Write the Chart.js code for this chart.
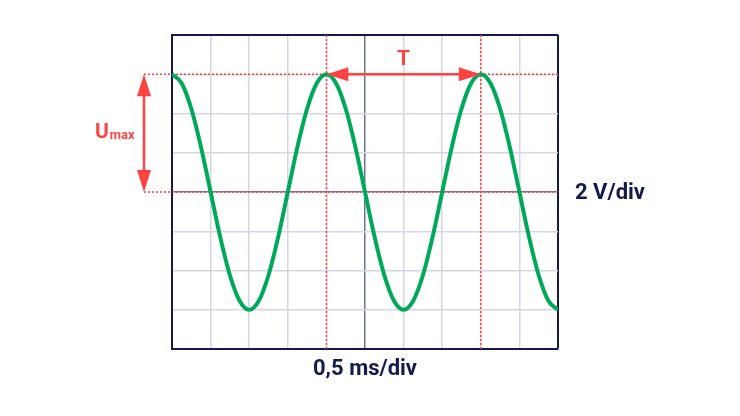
<!DOCTYPE html>
<html>
<head>
<meta charset="utf-8">
<script src="https://cdn.jsdelivr.net/npm/chart.js@4.4.0/dist/chart.umd.min.js"></script>
<style>
  body { margin: 0; background: #ffffff; }
</style>
</head>
<body>
<canvas id="scope" width="740" height="416"></canvas>
<script>
// time axis in divisions (0,5 ms/div), voltage in divisions (2 V/div)
const timeDiv = [
    0, 0.25, 0.5, 0.75, 1, 1.25, 1.5, 1.75, 2, 2.25, 2.5, 2.75, 3, 3.25, 3.5, 3.75,
    4, 4.25, 4.5, 4.75, 5, 5.25, 5.5, 5.75, 6, 6.25, 6.5, 6.75, 7, 7.25, 7.5, 7.75,
    8, 8.25, 8.5, 8.75, 9, 9.25, 9.5, 9.75, 10
];
const voltDiv = [
    3, 2.77, 2.12, 1.15, 0, -1.15, -2.12, -2.77, -3, -2.77, -2.12, -1.15, 0, 1.15, 2.12, 2.77,
    3, 2.77, 2.12, 1.15, 0, -1.15, -2.12, -2.77, -3, -2.77, -2.12, -1.15, 0, 1.15, 2.12, 2.77,
    3, 2.77, 2.12, 1.15, 0, -1.15, -2.12, -2.77, -3
];

const xRange = [0, 10];
const yRange = [-4, 4];
const peakTimes = [4, 8];   // peaks used to mark the period T
const uMax = 3;

const xLabel = '0,5 ms/div';
const yLabel = '2 V/div';
const periodLabel = 'T';

const RED = '#ff4343';
const NAVY = '#151a4c';
const MID = '#6f7495';
const GRID = '#d4d7e2';
const FONT = 'Roboto, "Noto Sans", sans-serif';

function arrowHead(ctx, tipX, tipY, dirX, dirY) {
    const len = 22, half = 7;
    const bx = tipX - dirX * len, by = tipY - dirY * len;
    ctx.beginPath();
    ctx.moveTo(tipX, tipY);
    ctx.lineTo(bx - dirY * half, by + dirX * half);
    ctx.lineTo(bx + dirY * half, by - dirX * half);
    ctx.closePath();
    ctx.fill();
}

const scopeMarks = {
    id: 'scopeMarks',
    beforeDatasetsDraw(chart) {
        const { ctx, chartArea: a, scales: { x, y } } = chart;
        const yPeak = y.getPixelForValue(uMax);
        const yZero = y.getPixelForValue(0);
        ctx.save();
        ctx.strokeStyle = RED;
        ctx.lineWidth = 1.5;
        ctx.setLineDash([2, 2]);
        // horizontal dotted lines, reaching out to the Umax arrow
        [yPeak, yZero].forEach(py => {
            ctx.beginPath();
            ctx.moveTo(a.left - 28, py);
            ctx.lineTo(a.right, py);
            ctx.stroke();
        });
        // vertical dotted lines at the peaks
        peakTimes.forEach(t => {
            const px = x.getPixelForValue(t);
            ctx.beginPath();
            ctx.moveTo(px, a.top);
            ctx.lineTo(px, a.bottom);
            ctx.stroke();
        });
        ctx.restore();
    },
    afterDatasetsDraw(chart) {
        const { ctx, chartArea: a, scales: { x, y } } = chart;
        const yPeak = y.getPixelForValue(uMax);
        const yZero = y.getPixelForValue(0);
        const x1 = x.getPixelForValue(peakTimes[0]);
        const x2 = x.getPixelForValue(peakTimes[1]);
        const ax = a.left - 28;
        ctx.save();
        ctx.strokeStyle = RED;
        ctx.fillStyle = RED;
        ctx.lineWidth = 2.5;

        // period arrow
        ctx.beginPath();
        ctx.moveTo(x1 + 15, yPeak);
        ctx.lineTo(x2 - 15, yPeak);
        ctx.stroke();
        arrowHead(ctx, x1, yPeak, -1, 0);
        arrowHead(ctx, x2, yPeak, 1, 0);

        // amplitude arrow
        ctx.beginPath();
        ctx.moveTo(ax, yPeak + 15);
        ctx.lineTo(ax, yZero - 15);
        ctx.stroke();
        arrowHead(ctx, ax, yPeak, 0, -1);
        arrowHead(ctx, ax, yZero, 0, 1);

        // labels
        ctx.textBaseline = 'alphabetic';
        ctx.textAlign = 'center';
        ctx.font = 'bold 21px ' + FONT;
        ctx.fillText(periodLabel, (x1 + x2) / 2, yPeak - 9);

        ctx.textAlign = 'left';
        const uy = (yPeak + yZero) / 2 + 5;
        ctx.font = 'bold 21px ' + FONT;
        ctx.fillText('U', ax - 49, uy);
        const uw = ctx.measureText('U').width;
        ctx.font = 'bold 13px ' + FONT;
        ctx.fillText('max', ax - 49 + uw + 1, uy + 1);

        ctx.fillStyle = NAVY;
        ctx.font = 'bold 22px ' + FONT;
        ctx.textBaseline = 'middle';
        ctx.fillText(yLabel, a.right + 17, yZero + 1);
        ctx.textAlign = 'center';
        ctx.fillText(xLabel, (a.left + a.right) / 2, a.bottom + 20);
        ctx.restore();
    }
};

// centre lines mid grey-blue, far edges navy, the rest light grey
function gridColor(center, edge) {
    return c => c.tick.value === edge ? NAVY : (c.tick.value === center ? MID : GRID);
}
function gridWidth(edge) {
    return c => c.tick.value === edge ? 2 : 1.5;
}

new Chart(document.getElementById('scope').getContext('2d'), {
    type: 'line',
    data: {
        datasets: [{
            data: timeDiv.map((t, i) => ({ x: t, y: voltDiv[i] })),
            borderColor: '#00a85a',
            borderWidth: 4,
            pointRadius: 0,
            cubicInterpolationMode: 'monotone',
            fill: false
        }]
    },
    options: {
        responsive: false,
        animation: false,
        layout: { padding: { left: 172, right: 182, top: 35, bottom: 67 } },
        plugins: { legend: { display: false }, tooltip: { enabled: false } },
        scales: {
            x: {
                type: 'linear',
                min: xRange[0],
                max: xRange[1],
                ticks: { stepSize: 1, display: false },
                grid: { color: gridColor(5, 10), lineWidth: gridWidth(10), drawTicks: false },
                border: { display: true, color: NAVY, width: 2 }
            },
            y: {
                min: yRange[0],
                max: yRange[1],
                ticks: { stepSize: 1, display: false },
                grid: { color: gridColor(0, 4), lineWidth: gridWidth(4), drawTicks: false },
                border: { display: true, color: NAVY, width: 2 }
            }
        }
    },
    plugins: [scopeMarks]
});
</script>
</body>
</html>
